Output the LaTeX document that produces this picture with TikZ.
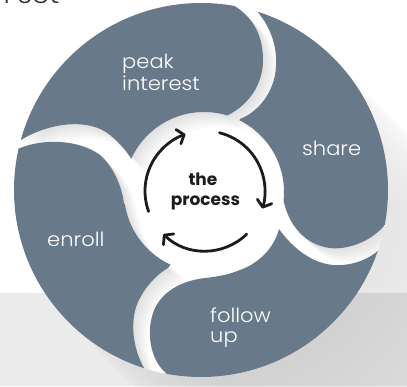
\documentclass[tikz,border=0pt]{standalone}
\usepackage{fontspec}
\setmainfont{Poppins}
\IfFontExistsTF{Poppins Light}{\newfontfamily\labfont{Poppins Light}[FakeStretch=1.08]}{\newfontfamily\labfont{Poppins}[FakeStretch=1.08]}
\usetikzlibrary{calc,arrows.meta}
\definecolor{petal}{RGB}{104,122,137}
\definecolor{ink}{RGB}{28,28,28}
\definecolor{panel}{RGB}{235,235,235}
\definecolor{topink}{RGB}{50,50,50}

\newcommand\peakpath{([shift={(201,190)}]-166:230) -- (0,143) -- (21,140) .. controls (50,122) and (90,118) .. (110,135) .. controls (120,143) and (127,152) .. (132,160) -- (160,185) -- (215,160) -- (226,116) .. controls (248,106) and (263,85) .. (263,60) .. controls (263,38) and (255,18) .. (233,5) -- (228,-8) -- ([shift={(201,190)}]-82:230) arc[start angle=-82, end angle=-166, radius=230] -- cycle}
\newcommand\sharepath{([shift={(201,190)}]-75:230) -- (250,-2) -- (256,10) .. controls (272,28) and (277,48) .. (276,66) .. controls (275,92) and (258,112) .. (240,119) -- (225,150) -- (250,195) -- (283,198) .. controls (288,225) and (305,245) .. (330,248) .. controls (345,250) and (372,243) .. (387,222) -- (398,214) -- ([shift={(201,190)}]7:230) arc[start angle=7, end angle=-75, radius=230] -- cycle}
\newcommand\followpath{([shift={(201,190)}]15:230) -- (396,241) -- (380,249) .. controls (366,262) and (348,266) .. (333,265) .. controls (310,263) and (290,245) .. (279,229) .. controls (275,245) and (262,262) .. (240,270) .. controls (228,275) and (215,277) .. (205,278) .. controls (180,281) and (163,292) .. (155,308) .. controls (145,330) and (150,360) .. (166,373) -- (172,388) -- ([shift={(201,190)}]100:230) arc[start angle=100, end angle=15, radius=230] -- cycle}
\newcommand\enrollpath{([shift={(201,190)}]105:230) -- (151,386) -- (147,373) .. controls (133,352) and (129,322) .. (138,302) .. controls (145,287) and (156,275) .. (168,268) -- (185,245) -- (160,200) -- (124,204) .. controls (122,185) and (112,165) .. (100,155) .. controls (80,140) and (45,138) .. (20,148) -- (6,153) -- ([shift={(201,190)}]191:230) arc[start angle=191, end angle=105, radius=230] -- cycle}
\newcommand\annulus{(201,190) circle[radius=187] (204,192) circle[radius=80]}

\begin{document}
\begin{tikzpicture}[x=1pt,y=-1pt,
  lab/.style={text=white, font=\labfont\fontsize{19.5}{22}\selectfont, anchor=base west, inner sep=0pt},
  ctr/.style={text=ink, font=\bfseries\fontsize{17}{20}\selectfont, anchor=base, inner sep=0pt},
  cyc/.style={draw=ink, line width=2.8pt, line cap=round, -{Straight Barb[length=6pt,width=15pt,round]}}]
\useasboundingbox (0,0) rectangle (407,386);
\clip (0,0) rectangle (407,386);
\fill[white] (0,0) rectangle (407,386);
\fill[panel] (0,293) rectangle (407,386);
% long shadow
\foreach \k in {0,8,...,200} {\fill[black,fill opacity=0.0045] (201+\k,190+\k) circle[radius=187];}
\fill[white] (201,190) circle[radius=187];
% cast shadows inside the disk
\begin{scope}
  \clip (201,190) circle[radius=187];
  \foreach \k in {1.5,3,...,15} {
    \begin{scope}[shift={(\k,\k)}, even odd rule]
      \clip \annulus;
      \fill[black,fill opacity=0.013] \peakpath \sharepath \enrollpath;
    \end{scope}
    \begin{scope}[shift={(\k,\k)}]
      \clip (201,190) circle[radius=187];
      \fill[black,fill opacity=0.013] \followpath;
    \end{scope}
  }
\end{scope}
% petals
\begin{scope}[even odd rule]
  \clip \annulus;
  \fill[petal] \peakpath;
  \fill[petal] \sharepath;
  \fill[petal] \enrollpath;
\end{scope}
\begin{scope}
  \clip (201,190) circle[radius=187];
  \fill[petal] \followpath;
\end{scope}
% labels
\node[anchor=base west, inner sep=0pt, text=topink, font=\labfont\fontsize{26}{30}\selectfont] (toptext) at (-8,3) {n set};
\node[lab] (peak1) at (122,68) {peak};
\node[lab] (peak2) at (122,90) {interest};
\node[lab] (share) at (302,155) {share};
\node[lab] (enroll) at (47,246) {enroll};
\node[lab] (follow1) at (210,322) {follow};
\node[lab] (follow2) at (210,342) {up};
\node[ctr] (the) at (203,185) {the};
\node[ctr] (process) at (205.5,205) {process};
% cycle arrows
\draw[cyc] ([shift={(205,191)}]160:60) arc[start angle=160, end angle=251, radius=60];
\draw[cyc] ([shift={(205,191)}]-76:60) arc[start angle=-76, end angle=17, radius=60];
\draw[cyc] ([shift={(205,191)}]46:60) arc[start angle=46, end angle=134, radius=60];
\end{tikzpicture}
\end{document}
